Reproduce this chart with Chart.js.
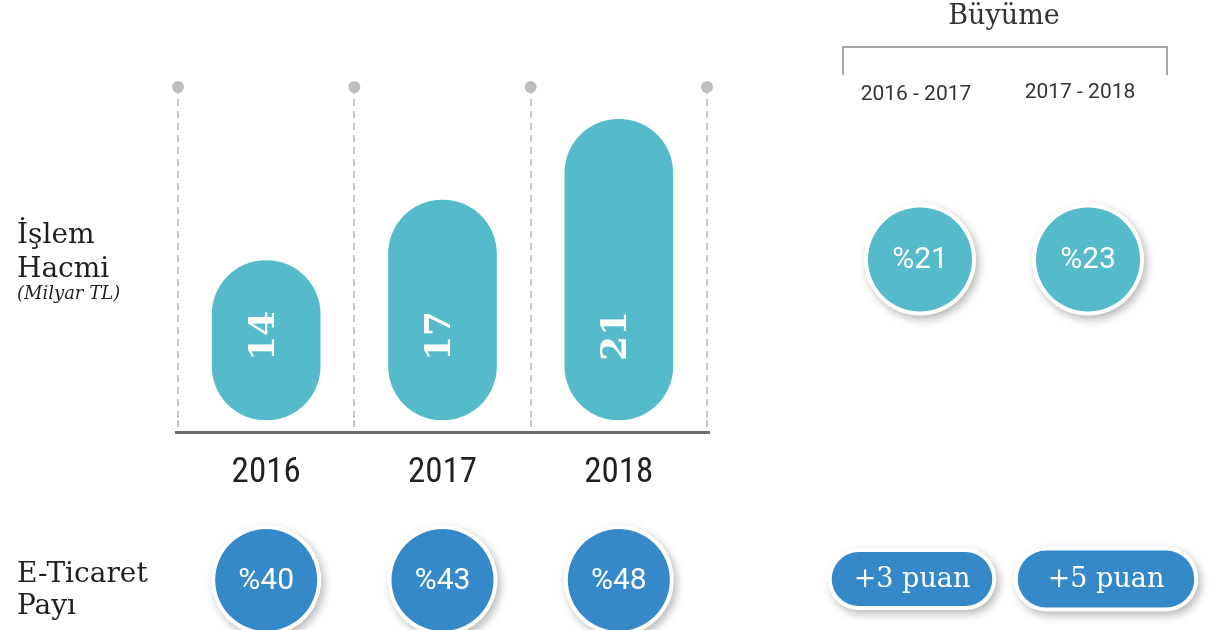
<!DOCTYPE html>
<html lang="tr">
<head>
<meta charset="utf-8">
<title>İşlem Hacmi ve E-Ticaret Payı</title>
<script src="https://cdn.jsdelivr.net/npm/chart.js@4.4.1/dist/chart.umd.min.js"></script>
<style>
  html, body { margin: 0; padding: 0; background: #fff; }
  #wrap { position: relative; width: 1217px; height: 630px; }
  #wrap canvas { position: absolute; left: 0; top: 0; }
</style>
</head>
<body>
<div id="wrap">
  <canvas id="volumeChart" width="1217" height="630"></canvas>
  <canvas id="growthChart" width="1217" height="630"></canvas>
</div>
<script>
// --- data ---
const years = ["2016", "2017", "2018"];
const volume = [14, 17, 21];            // işlem hacmi, milyar TL
const eShare = [40, 43, 48];            // e-ticaret payı, %
const periods = ["2016 - 2017", "2017 - 2018"];
const volumeGrowth = [21, 23];          // %
const shareGain = [3, 5];               // puan
const rows = ["İşlem Hacmi", "E-Ticaret Payı"];
const rowLines = [["İşlem", "Hacmi"], ["E-Ticaret", "Payı"]];
const volumeUnit = "(Milyar TL)";

const Y_MIN = 6.1;
const Y_MAX = 22.6;

const TEAL = "#55bac9";
const BLUE = "#3589c9";
const INK = "#231f20";
const GREY = "#c9c9c9";
const SLAB = "'DejaVu Serif', serif";
const SANS = "Roboto, 'Open Sans', sans-serif";
const NARROW = "'Liberation Sans Narrow', 'Roboto Condensed', Roboto, sans-serif";

function setShadow(ctx) {
  ctx.shadowColor = "rgba(0,0,0,0.28)";
  ctx.shadowBlur = 8;
  ctx.shadowOffsetX = 3;
  ctx.shadowOffsetY = 4;
}

// white ring with drop shadow, drawn under a coloured disc
function ringShadow(ctx, x, y, r) {
  ctx.save();
  setShadow(ctx);
  ctx.beginPath();
  ctx.arc(x, y, r + 4, 0, Math.PI * 2);
  ctx.fillStyle = "#fff";
  ctx.fill();
  ctx.restore();
}

function roundBadge(ctx, x, y, r, fill, text) {
  ringShadow(ctx, x, y, r);
  ctx.beginPath();
  ctx.arc(x, y, r, 0, Math.PI * 2);
  ctx.fillStyle = fill;
  ctx.fill();
  ctx.fillStyle = "#fff";
  ctx.font = "30px " + SANS;
  ctx.textAlign = "center";
  ctx.textBaseline = "middle";
  ctx.fillText(text, x, y + 1);
}

function pill(ctx, x, y, w, h, fill, text) {
  const r = h / 2;
  const path = (pad) => {
    ctx.beginPath();
    ctx.roundRect(x - w / 2 - pad, y - r - pad, w + pad * 2, h + pad * 2, r + pad);
  };
  ctx.save();
  setShadow(ctx);
  path(4);
  ctx.fillStyle = "#fff";
  ctx.fill();
  ctx.restore();
  path(0);
  ctx.fillStyle = fill;
  ctx.fill();
  ctx.fillStyle = "#fff";
  ctx.font = "27px " + SLAB;
  ctx.textAlign = "center";
  ctx.textBaseline = "middle";
  ctx.fillText(text, x, y + 1);
}

// dots, baseline, bar labels, share badges, row titles
const volumeDecor = {
  id: "volumeDecor",
  afterDatasetsDraw(chart) {
    const ctx = chart.ctx;
    const meta = chart.getDatasetMeta(0);
    meta.data.forEach((bar, i) => {
      ctx.save();
      ctx.translate(bar.x - 2, bar.base - 84);
      ctx.rotate(-Math.PI / 2);
      ctx.font = "bold 36px " + SLAB;
      ctx.fillStyle = "#fff";
      ctx.textAlign = "center";
      ctx.textBaseline = "middle";
      ctx.fillText(String(volume[i]), 0, 0);
      ctx.restore();
    });
  },
  afterDraw(chart) {
    const ctx = chart.ctx;
    const { left, right, top, bottom } = chart.chartArea;
    const xs = chart.scales.x;

    ctx.save();
    ctx.fillStyle = "#6d6e71";
    ctx.fillRect(left - 3, bottom + 11, right - left + 6, 3);

    const slot = (right - left) / years.length;
    ctx.fillStyle = "#bdbec0";
    for (let i = 0; i <= years.length; i++) {
      ctx.beginPath();
      ctx.arc(left + i * slot, top, 6, 0, Math.PI * 2);
      ctx.fill();
    }

    eShare.forEach((v, i) => {
      roundBadge(ctx, xs.getPixelForValue(i), 580, 51, BLUE, "%" + v);
    });

    ctx.fillStyle = INK;
    ctx.textAlign = "left";
    ctx.textBaseline = "alphabetic";
    ctx.font = "28px " + SLAB;
    ctx.fillText(rowLines[0][0], 17, 243);
    ctx.fillText(rowLines[0][1], 17, 277);
    ctx.fillText(rowLines[1][0], 17, 582);
    ctx.fillText(rowLines[1][1], 17, 614);
    ctx.font = "italic 18px " + SLAB;
    ctx.fillText(volumeUnit, 17, 299);
    ctx.restore();
  }
};

new Chart(document.getElementById("volumeChart"), {
  type: "bar",
  data: {
    labels: years,
    datasets: [{
      label: rows[0],
      data: volume,
      base: Y_MIN,
      backgroundColor: TEAL,
      borderRadius: 60,
      borderSkipped: false,
      barThickness: 108
    }]
  },
  options: {
    responsive: false,
    animation: false,
    events: [],
    layout: { padding: { left: 178, right: 510, top: 87, bottom: 116 } },
    plugins: {
      legend: { display: false },
      tooltip: { enabled: false }
    },
    scales: {
      x: {
        offset: true,
        grid: {
          offset: true,
          color: GREY,
          lineWidth: 2,
          borderDash: [7, 5],
          drawTicks: true,
          tickLength: 12,
          tickColor: GREY,
          tickWidth: 2,
          tickBorderDash: [7, 5]
        },
        border: { display: false, dash: [7, 5] },
        ticks: {
          color: INK,
          padding: 20,
          font: { family: NARROW, size: 35 }
        }
      },
      y: { display: false, min: Y_MIN, max: Y_MAX }
    }
  },
  plugins: [volumeDecor]
});

// right panel: growth
const growthDecor = {
  id: "growthDecor",
  beforeDatasetDraw(chart, args) {
    if (args.index !== 0) return;
    chart.getDatasetMeta(0).data.forEach(pt => ringShadow(chart.ctx, pt.x, pt.y, 52));
  },
  afterDraw(chart) {
    const ctx = chart.ctx;
    const { left, right } = chart.chartArea;
    const xs = chart.scales.x;
    ctx.save();
    ctx.strokeStyle = "#8a8a8a";
    ctx.lineWidth = 1.5;
    ctx.beginPath();
    ctx.moveTo(left + 7, 75);
    ctx.lineTo(left + 7, 47);
    ctx.lineTo(right - 5, 47);
    ctx.lineTo(right - 5, 75);
    ctx.stroke();

    ctx.fillStyle = "#333";
    ctx.font = "21px " + SANS;
    ctx.textAlign = "center";
    ctx.textBaseline = "middle";
    periods.forEach((p, i) => {
      ctx.fillText(p, xs.getPixelForValue(i) - 4 - i * 4, 95 - i * 2);
    });

    const circles = chart.getDatasetMeta(0).data;
    circles.forEach((pt, i) => {
      ctx.fillStyle = "#fff";
      ctx.font = "30px " + SANS;
      ctx.fillText("%" + volumeGrowth[i], pt.x, pt.y + 1);
    });

    const spots = chart.getDatasetMeta(1).data;
    spots.forEach((pt, i) => {
      const text = "+" + shareGain[i] + " puan";
      ctx.font = "27px " + SLAB;
      const w = ctx.measureText(text).width + 44 + i * 16;
      pill(ctx, pt.x + (i ? 18 : -8), pt.y, w, 54 + i * 3, BLUE, text);
    });
    ctx.restore();
  }
};

new Chart(document.getElementById("growthChart"), {
  type: "line",
  data: {
    datasets: [
      {
        label: rows[0],
        data: periods.map(p => ({ x: p, y: rows[0] })),
        showLine: false,
        pointRadius: 52,
        pointBackgroundColor: TEAL,
        pointBorderWidth: 0,
        clip: false
      },
      {
        label: rows[1],
        data: periods.map(p => ({ x: p, y: rows[1] })),
        showLine: false,
        pointRadius: 0,
        clip: false
      }
    ]
  },
  options: {
    responsive: false,
    animation: false,
    events: [],
    layout: { autoPadding: false, padding: { left: 836, right: 45, top: 0, bottom: 51 } },
    plugins: {
      legend: { display: false },
      tooltip: { enabled: false },
      title: {
        display: true,
        text: "Büyüme",
        color: "#333",
        font: { family: SLAB, size: 27, weight: "normal" },
        padding: { top: 1, bottom: 226 }
      }
    },
    scales: {
      x: { type: "category", labels: periods, offset: true, display: false },
      y: { type: "category", labels: rows, offset: false, display: false }
    }
  },
  plugins: [growthDecor]
});
</script>
</body>
</html>
